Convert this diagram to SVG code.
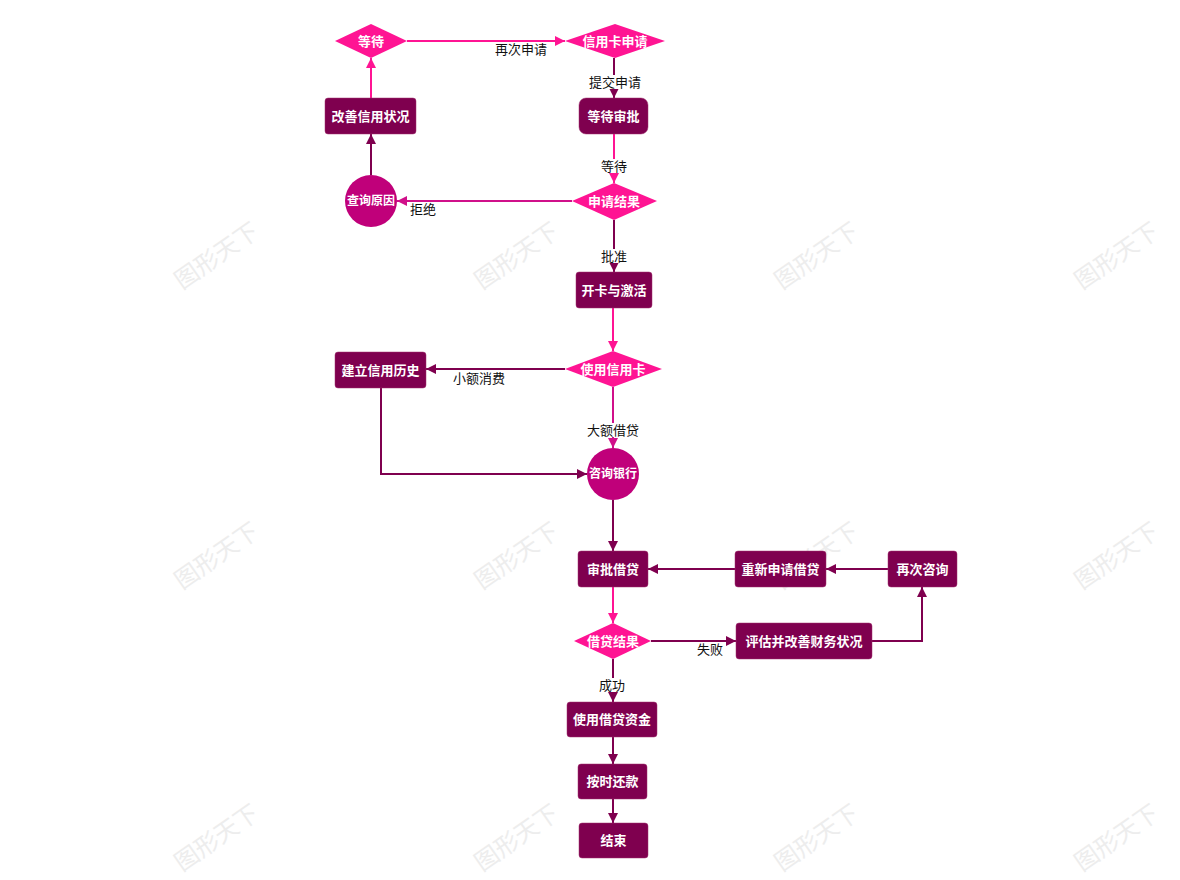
<svg xmlns="http://www.w3.org/2000/svg" width="1180" height="880" viewBox="0 0 1180 880">
<style>
.wm{font-family:"Noto Sans CJK SC","Liberation Sans",sans-serif;font-size:24px;fill:#ededed;}
.nt{font-family:"Liberation Sans","Noto Sans CJK SC",sans-serif;font-size:13px;font-weight:bold;fill:#ffffff;text-anchor:middle;dominant-baseline:central;}
.lt{font-family:"Liberation Sans","Noto Sans CJK SC",sans-serif;font-size:13px;fill:#111111;text-anchor:middle;dominant-baseline:central;}
.rect{fill:#7f004f;stroke:#a0306f;stroke-width:0.5;}
.dia{fill:#ff1493;}
.circ{fill:#c0007a;}
.ld{fill:none;stroke:#7f004f;stroke-width:2;}
.lp{fill:none;stroke:#ff1493;stroke-width:2;}
.lm{fill:none;stroke:#d0108a;stroke-width:2;}
.lb{fill:#ffffff;}
</style>
<defs>
<marker id="ad" viewBox="0 0 10 10" refX="10" refY="5" markerWidth="6" markerHeight="5" orient="auto" markerUnits="strokeWidth"><path d="M0,0 L10,5 L0,10 z" fill="#7f004f"/></marker>
<marker id="ap" viewBox="0 0 10 10" refX="10" refY="5" markerWidth="6" markerHeight="5" orient="auto" markerUnits="strokeWidth"><path d="M0,0 L10,5 L0,10 z" fill="#ff1493"/></marker>
<marker id="am" viewBox="0 0 10 10" refX="10" refY="5" markerWidth="6" markerHeight="5" orient="auto" markerUnits="strokeWidth"><path d="M0,0 L10,5 L0,10 z" fill="#d0108a"/></marker>
</defs>
<rect width="1180" height="880" fill="#ffffff"/>
<g id="watermarks">
<text class="wm" transform="translate(182,290) rotate(-35)">图形天下</text>
<text class="wm" transform="translate(482,290) rotate(-35)">图形天下</text>
<text class="wm" transform="translate(782,290) rotate(-35)">图形天下</text>
<text class="wm" transform="translate(1082,290) rotate(-35)">图形天下</text>
<text class="wm" transform="translate(182,590) rotate(-35)">图形天下</text>
<text class="wm" transform="translate(482,590) rotate(-35)">图形天下</text>
<text class="wm" transform="translate(782,590) rotate(-35)">图形天下</text>
<text class="wm" transform="translate(1082,590) rotate(-35)">图形天下</text>
<text class="wm" transform="translate(182,872) rotate(-35)">图形天下</text>
<text class="wm" transform="translate(482,872) rotate(-35)">图形天下</text>
<text class="wm" transform="translate(782,872) rotate(-35)">图形天下</text>
<text class="wm" transform="translate(1082,872) rotate(-35)">图形天下</text>
</g>
<g id="connectors">
<path class="lp" d="M407,41 L565,41" marker-end="url(#ap)"/>
<path class="ld" d="M614,58 L614,98" marker-end="url(#ad)"/>
<path class="lp" d="M614,134 L614,183" marker-end="url(#ap)"/>
<path class="lm" d="M572,201 L397,201" marker-end="url(#am)"/>
<path class="ld" d="M371,175 L371,134" marker-end="url(#ad)"/>
<path class="lp" d="M371,98 L371,58" marker-end="url(#ap)"/>
<path class="ld" d="M614,220 L614,272" marker-end="url(#ad)"/>
<path class="lp" d="M613,308 L613,351" marker-end="url(#ap)"/>
<path class="ld" d="M565,369 L426,369" marker-end="url(#ad)"/>
<path class="lm" d="M613,387 L613,448" marker-end="url(#am)"/>
<path class="ld" d="M381,388 L381,474 L587,474" marker-end="url(#ad)"/>
<path class="ld" d="M613,500 L613,551" marker-end="url(#ad)"/>
<path class="ld" d="M735,569 L648,569" marker-end="url(#ad)"/>
<path class="ld" d="M888,569 L826,569" marker-end="url(#ad)"/>
<path class="lp" d="M613,587 L613,623" marker-end="url(#ap)"/>
<path class="ld" d="M651,641 L736,641" marker-end="url(#ad)"/>
<path class="ld" d="M872,641 L922,641 L922,587" marker-end="url(#ad)"/>
<path class="ld" d="M613,659 L613,702" marker-end="url(#ad)"/>
<path class="ld" d="M613,737 L613,764" marker-end="url(#ad)"/>
<path class="ld" d="M613,799 L613,823" marker-end="url(#ad)"/>
<rect class="lb" x="494" y="42" width="54" height="14"/><text class="lt" x="521" y="49">再次申请</text>
<rect class="lb" x="588" y="75" width="54" height="14"/><text class="lt" x="615" y="82">提交申请</text>
<rect class="lb" x="600" y="159" width="28" height="14"/><text class="lt" x="614" y="166">等待</text>
<rect class="lb" x="409" y="202" width="28" height="14"/><text class="lt" x="423" y="209">拒绝</text>
<rect class="lb" x="600" y="249" width="28" height="14"/><text class="lt" x="614" y="256">批准</text>
<rect class="lb" x="452" y="371" width="54" height="14"/><text class="lt" x="479" y="378">小额消费</text>
<rect class="lb" x="586" y="423" width="54" height="14"/><text class="lt" x="613" y="430">大额借贷</text>
<rect class="lb" x="696" y="642" width="28" height="14"/><text class="lt" x="710" y="649">失败</text>
<rect class="lb" x="598" y="678" width="28" height="14"/><text class="lt" x="612" y="685">成功</text>
</g>
<g id="n-wait1"><polygon class="dia" points="335,41 371,24 407,41 371,58"/><text class="nt" x="371" y="41">等待</text></g>
<g id="n-apply"><polygon class="dia" points="565,41 615,24 665,41 615,58"/><text class="nt" x="615" y="41">信用卡申请</text></g>
<g id="n-improve"><rect class="rect" x="325" y="98" width="91" height="36" rx="3"/><text class="nt" x="370.5" y="116">改善信用状况</text></g>
<g id="n-pending"><rect class="rect" x="579" y="98" width="69" height="36" rx="7"/><text class="nt" x="613.5" y="116">等待审批</text></g>
<g id="n-reason"><circle class="circ" cx="371" cy="201" r="26"/><text class="nt" x="371" y="201" style="font-size:12px">查询原因</text></g>
<g id="n-result"><polygon class="dia" points="572,201 614,183 657,201 614,220"/><text class="nt" x="614" y="201">申请结果</text></g>
<g id="n-activate"><rect class="rect" x="576" y="272" width="76" height="36" rx="3"/><text class="nt" x="614" y="290">开卡与激活</text></g>
<g id="n-use"><polygon class="dia" points="565,369 613,351 662,369 613,387"/><text class="nt" x="613" y="369">使用信用卡</text></g>
<g id="n-history"><rect class="rect" x="335" y="352" width="91" height="36" rx="3"/><text class="nt" x="380.5" y="370">建立信用历史</text></g>
<g id="n-bank"><circle class="circ" cx="613" cy="474" r="26"/><text class="nt" x="613" y="474" style="font-size:12px">咨询银行</text></g>
<g id="n-approve"><rect class="rect" x="578" y="551" width="70" height="36" rx="3"/><text class="nt" x="613" y="569">审批借贷</text></g>
<g id="n-reapply"><rect class="rect" x="735" y="551" width="91" height="36" rx="3"/><text class="nt" x="780.5" y="569">重新申请借贷</text></g>
<g id="n-consult"><rect class="rect" x="888" y="551" width="69" height="36" rx="3"/><text class="nt" x="922.5" y="569">再次咨询</text></g>
<g id="n-loanresult"><polygon class="dia" points="574,641 613,623 651,641 613,659"/><text class="nt" x="613" y="641">借贷结果</text></g>
<g id="n-evaluate"><rect class="rect" x="736" y="623" width="136" height="36" rx="3"/><text class="nt" x="804" y="641">评估并改善财务状况</text></g>
<g id="n-funds"><rect class="rect" x="567" y="702" width="90" height="35" rx="3"/><text class="nt" x="612" y="719.5">使用借贷资金</text></g>
<g id="n-repay"><rect class="rect" x="578" y="764" width="69" height="35" rx="3"/><text class="nt" x="612.5" y="781.5">按时还款</text></g>
<g id="n-end"><rect class="rect" x="579" y="823" width="69" height="35" rx="3"/><text class="nt" x="613.5" y="840.5">结束</text></g>
</svg>
